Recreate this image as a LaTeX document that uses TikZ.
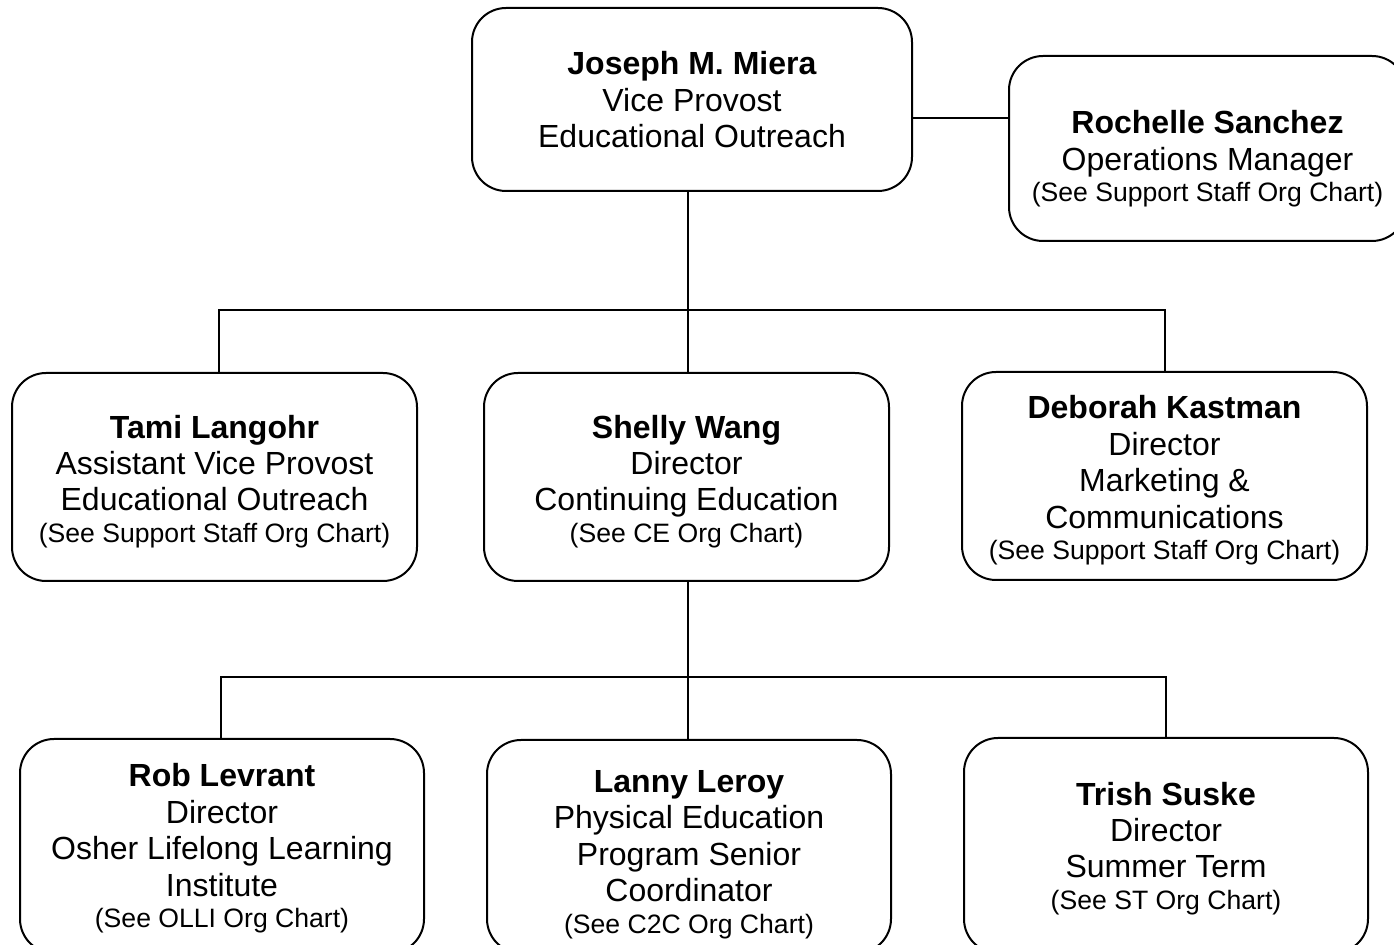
\documentclass[tikz,border=0pt]{standalone}
\usepackage{fontspec}
\setmainfont{Liberation Sans}
\newcommand{\smtxt}[1]{{\fontsize{13.3}{16}\selectfont #1}}
\newcommand{\topgap}[1]{\rule{0pt}{#1}}
\begin{document}
\begin{tikzpicture}[x=0.5pt,y=-0.5pt,
  box/.style={draw, line width=1pt, rounded corners=17pt, inner sep=0pt, align=center,
    font=\fontsize{16}{18.2}\selectfont},
  conn/.style={line width=1pt}]
\useasboundingbox (0,0) rectangle (1394,945);
\clip (0,0) rectangle (1394,945);

\node[box, minimum width=220pt, minimum height=91.5pt] (joseph) at (692,99.5)
  {\topgap{12pt}\textbf{Joseph M. Miera}\\Vice Provost\\Educational Outreach};
\node[box, minimum width=198.5pt, minimum height=92.5pt] (rochelle) at (1207.5,148.5)
  {\topgap{22pt}\textbf{Rochelle Sanchez}\\Operations Manager\\[-2.5pt]\smtxt{(See Support Staff Org Chart)}};

\node[box, minimum width=202.5pt, minimum height=104pt] (tami) at (214.5,477)
  {\topgap{16pt}\textbf{Tami Langohr}\\Assistant Vice Provost\\Educational Outreach\\[-2.5pt]\smtxt{(See Support Staff Org Chart)}};
\node[box, minimum width=202.5pt, minimum height=104pt] (shelly) at (686.5,477)
  {\topgap{16pt}\textbf{Shelly Wang}\\Director\\Continuing Education\\[-2.5pt]\smtxt{(See CE Org Chart)}};
\node[box, minimum width=202.5pt, minimum height=104pt] (deborah) at (1164.5,476)
  {\topgap{16pt}\textbf{Deborah Kastman}\\Director\\Marketing \&\\Communications\\[-2.5pt]\smtxt{(See Support Staff Org Chart)}};

\node[box, minimum width=202pt, minimum height=107pt] (rob) at (222,846)
  {\topgap{14pt}\textbf{Rob Levrant}\\Director\\Osher Lifelong Learning\\Institute\\[-2.5pt]\smtxt{(See OLLI Org Chart)}};
\node[box, minimum width=202pt, minimum height=106.5pt] (lanny) at (689,846.5)
  {\topgap{19pt}\textbf{Lanny Leroy}\\Physical Education\\Program Senior\\Coordinator\\[-2.5pt]\smtxt{(See C2C Org Chart)}};
\node[box, minimum width=202pt, minimum height=107.5pt] (trish) at (1166,845.5)
  {\topgap{14.5pt}\textbf{Trish Suske}\\Director\\Summer Term\\[-2.5pt]\smtxt{(See ST Org Chart)}};

\coordinate (busA) at (688,310);
\coordinate (busB) at (688,677);

\draw[conn] (joseph.east |- 0,118) -- (rochelle.west |- 0,118);
\draw[conn] (busA |- joseph.south) -- (busA);
\draw[conn] ([xshift=2pt]tami.north) |- (busA) -| (deborah.north);
\draw[conn] (busA) -- (busA |- shelly.north);

\draw[conn] (busB |- shelly.south) -- (busB);
\draw[conn] ([xshift=-0.5pt]rob.north) |- (busB) -| (trish.north);
\draw[conn] (busB) -- (busB |- lanny.north);
\end{tikzpicture}
\end{document}
